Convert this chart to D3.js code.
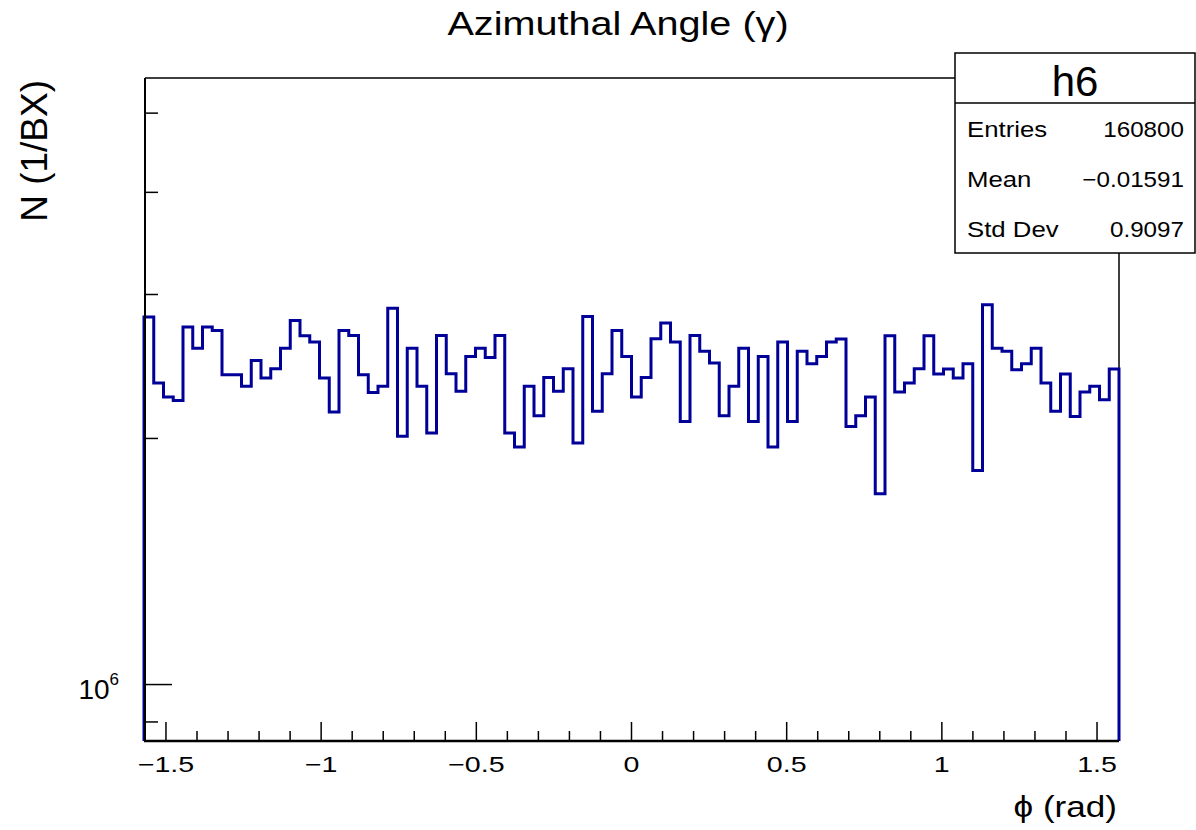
<!DOCTYPE html>
<html>
<head>
<meta charset="utf-8">
<script src="https://cdn.jsdelivr.net/npm/d3@7"></script>
<style>
  body { margin: 0; background: #fff; }
  svg text { font-family: "Liberation Sans", Arial, sans-serif; fill: #000; }
</style>
</head>
<body>
<svg id="chart" width="1196" height="830"></svg>
<script>
// bin contents, 100 bins over [-pi/2, pi/2]
const counts = [
  2.815e6, 2.338e6, 2.247e6, 2.226e6, 2.737e6, 2.579e6, 2.737e6, 2.711e6, 2.393e6, 2.393e6,
  2.316e6, 2.491e6, 2.371e6, 2.434e6, 2.579e6, 2.789e6, 2.671e6, 2.624e6, 2.371e6, 2.155e6,
  2.711e6, 2.673e6, 2.393e6, 2.277e6, 2.316e6, 2.887e6, 2.012e6, 2.579e6, 2.316e6, 2.031e6,
  2.673e6, 2.400e6, 2.284e6, 2.519e6, 2.579e6, 2.512e6, 2.673e6, 2.031e6, 1.953e6, 2.316e6,
  2.132e6, 2.375e6, 2.284e6, 2.434e6, 1.975e6, 2.820e6, 2.159e6, 2.400e6, 2.711e6, 2.519e6,
  2.247e6, 2.375e6, 2.649e6, 2.768e6, 2.624e6, 2.098e6, 2.673e6, 2.556e6, 2.474e6, 2.132e6,
  2.316e6, 2.579e6, 2.098e6, 2.519e6, 1.953e6, 2.624e6, 2.098e6, 2.556e6, 2.469e6, 2.519e6,
  2.624e6, 2.647e6, 2.069e6, 2.132e6, 2.247e6, 1.712e6, 2.671e6, 2.280e6, 2.338e6, 2.434e6,
  2.671e6, 2.398e6, 2.432e6, 2.371e6, 2.469e6, 1.828e6, 2.914e6, 2.579e6, 2.556e6, 2.427e6,
  2.469e6, 2.579e6, 2.338e6, 2.159e6, 2.398e6, 2.128e6, 2.280e6, 2.316e6, 2.230e6, 2.432e6
];
const xMin = -Math.PI / 2;
const xMax = Math.PI / 2;
const yMin = 8.53e5;
const yMax = 5.52e6;

const xMajorTicks = [-1.5, -1, -0.5, 0, 0.5, 1, 1.5];
const xMinorTicks = d3.range(-15, 16).map(d => d / 10).filter(d => !xMajorTicks.includes(d));
const yMajorTicks = [1e6];
const yMinorTicks = [9e5, 2e6, 3e6, 4e6, 5e6];

const statLabels = ["Entries", "Mean", "Std Dev"];
const statValues = ["160800", "\u22120.01591", "0.9097"];

const svg = d3.select("#chart");
const padL = 145, padR = 1119, padT = 78, padB = 741;

const x = d3.scaleLinear().domain([xMin, xMax]).range([padL - 1, padR]);
const y = d3.scaleLog().domain([yMin, yMax]).range([padB, padT]);

// the ROOT fonts come out wider than Liberation, so widen the text a bit
function stretch(sel, sx) {
  sel.each(function () {
    const w = this.getComputedTextLength();
    d3.select(this).attr("textLength", w * sx).attr("lengthAdjust", "spacingAndGlyphs");
  });
}

// frame (top and right)
svg.append("path")
  .attr("d", `M${padL},${padT}H${padR}V${padB}`)
  .attr("fill", "none")
  .attr("stroke", "#000")
  .attr("stroke-width", 1.5);

// histogram outline
const nb = counts.length;
const bw = (xMax - xMin) / nb;
let path = `M${x(xMin)},${padB}`;
counts.forEach((c, i) => {
  path += `V${y(c)}H${x(xMin + (i + 1) * bw)}`;
});
path += `V${padB}`;
svg.append("path")
  .attr("d", path)
  .attr("fill", "none")
  .attr("stroke", "#000099")
  .attr("stroke-width", 3);

// x axis
const gx = svg.append("g");
gx.selectAll(".maj").data(xMajorTicks).enter().append("line")
  .attr("x1", d => x(d)).attr("x2", d => x(d))
  .attr("y1", padB).attr("y2", padB - 19)
  .attr("stroke", "#000").attr("stroke-width", 1.5);
gx.selectAll(".min").data(xMinorTicks).enter().append("line")
  .attr("x1", d => x(d)).attr("x2", d => x(d))
  .attr("y1", padB).attr("y2", padB - 10)
  .attr("stroke", "#000").attr("stroke-width", 1.5);
const xLabels = gx.selectAll("text").data(xMajorTicks).enter().append("text")
  .attr("x", d => x(d))
  .attr("y", padB + 31)
  .attr("text-anchor", "middle")
  .style("font-size", "22px")
  .text(d => (d < 0 ? "\u2212" : "") + Math.abs(d));
stretch(xLabels, 1.3);
gx.append("line")
  .attr("x1", padL - 1).attr("x2", padR)
  .attr("y1", padB).attr("y2", padB)
  .attr("stroke", "#000").attr("stroke-width", 2.5);

// y axis
const gy = svg.append("g");
gy.selectAll(".maj").data(yMajorTicks).enter().append("line")
  .attr("x1", padL).attr("x2", padL + 27)
  .attr("y1", d => y(d)).attr("y2", d => y(d))
  .attr("stroke", "#000").attr("stroke-width", 1.5);
gy.selectAll(".min").data(yMinorTicks).enter().append("line")
  .attr("x1", padL).attr("x2", padL + 13)
  .attr("y1", d => y(d)).attr("y2", d => y(d))
  .attr("stroke", "#000").attr("stroke-width", 1.5);
const lab = gy.selectAll("text").data(yMajorTicks).enter().append("text")
  .attr("x", 119)
  .attr("y", d => y(d) + 14)
  .attr("text-anchor", "end")
  .style("font-size", "28px");
lab.append("tspan").text("10");
lab.append("tspan").attr("dy", -14).style("font-size", "17px").text(d => Math.round(Math.log10(d)));
gy.append("line")
  .attr("x1", padL).attr("x2", padL)
  .attr("y1", padT).attr("y2", padB)
  .attr("stroke", "#000").attr("stroke-width", 2);

// titles
const title = svg.append("text")
  .attr("x", 618).attr("y", 35)
  .attr("text-anchor", "middle")
  .style("font-size", "33px")
  .text("Azimuthal Angle (\u03b3)");
stretch(title, 1.2);

svg.append("text")
  .attr("transform", "translate(47,80) rotate(-90)")
  .attr("text-anchor", "end")
  .style("font-size", "37px")
  .text("N (1/BX)");

const xTitle = svg.append("text")
  .attr("x", padR - 2).attr("y", 817)
  .attr("text-anchor", "end")
  .style("font-size", "30px")
  .text("\u03d5 (rad)");
stretch(xTitle, 1.17);

// stats box
const bx = 955, by = 53, bwid = 240, bh = 200;
const stats = svg.append("g");
stats.append("rect")
  .attr("x", bx).attr("y", by).attr("width", bwid).attr("height", bh)
  .attr("fill", "#fff").attr("stroke", "#000").attr("stroke-width", 1.5);
stats.append("line")
  .attr("x1", bx).attr("x2", bx + bwid)
  .attr("y1", 103).attr("y2", 103)
  .attr("stroke", "#000").attr("stroke-width", 1.5);
stats.append("text")
  .attr("x", 1075).attr("y", 96)
  .attr("text-anchor", "middle")
  .style("font-size", "42px")
  .text("h6");
statLabels.forEach((s, i) => {
  const l = stats.append("text")
    .attr("x", 967).attr("y", 137 + i * 50)
    .style("font-size", "22px")
    .text(s);
  stretch(l, 1.17);
  const v = stats.append("text")
    .attr("x", 1184).attr("y", 137 + i * 50)
    .attr("text-anchor", "end")
    .style("font-size", "22px")
    .text(statValues[i]);
  stretch(v, 1.1);
});
</script>
</body>
</html>
